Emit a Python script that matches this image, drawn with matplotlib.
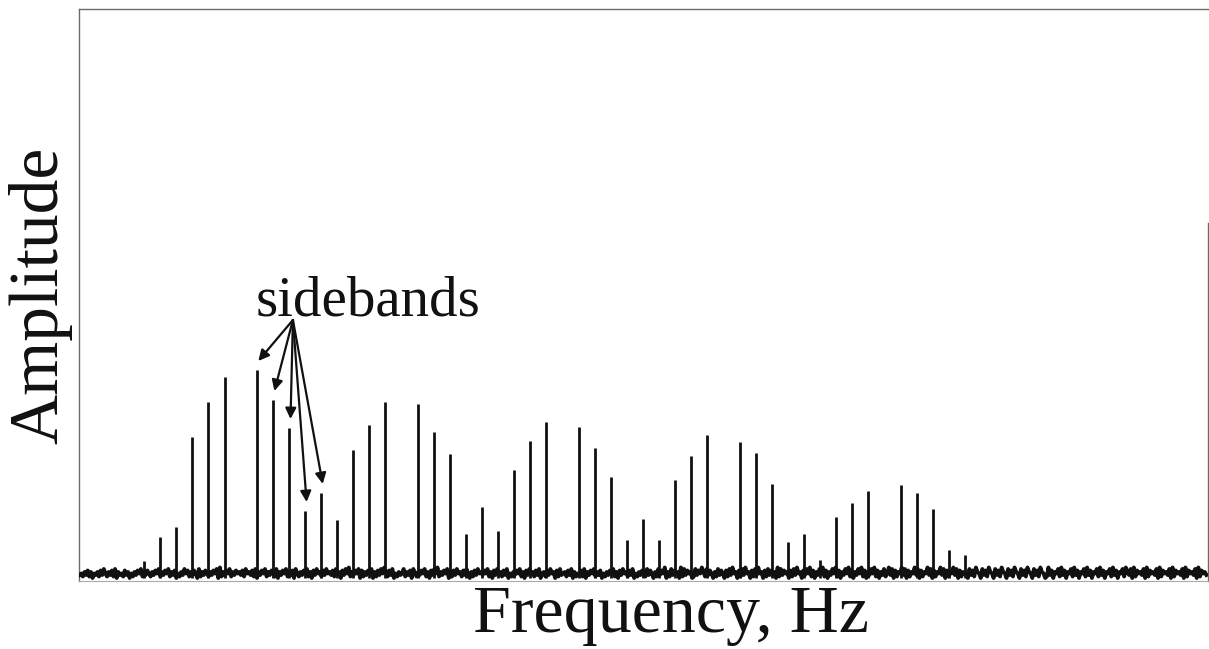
#------- Espectro con bandas laterales -------#
import matplotlib.pyplot as plt
import numpy as np

# posiciones de las lineas espectrales (indice de armonico) y amplitudes
lineas = [0, 1, 2, 3, 4, 5, 7, 8, 9, 10, 11, 12, 13, 14, 15, 17, 18, 19, 20, 21, 22, 23, 24, 25,
          27, 28, 29, 30, 31, 32, 33, 34, 35, 37, 38, 39, 40, 41, 42, 43, 44, 45, 47, 48, 49, 50, 51]
amplitudes = [20, 44, 54, 144, 179, 204, 211, 181, 153, 70, 88, 61, 131, 156, 179, 177, 149, 127,
              47, 74, 50, 111, 140, 159, 154, 133, 104, 41, 62, 41, 101, 125, 146, 139, 128, 97,
              39, 47, 21, 64, 78, 90, 96, 88, 72, 31, 26]

# piso de ruido (lectura aproximada, un digito por muestra)
ruido_txt = ("45364736254637485364738264537462536475836475364758"
             "36475836472536485736475283647536475829364758364756"
             "47385647382647583647538264758364728536475836274856"
             "37485647385627485936475827364758263748596374825364"
             "58364728536475836274859364758263748563748526374856"
             "47583627485637482536475836274856374825637485627384"
             "56374826354738264758364725364758362748563748253647"
             "63847526384759263847562938475623847596384752638475"
             "27384956273849562738495627384756293847562738495627"
             "48593726485937264859372648593726485937264859372648"
             "35948273659482736594827365948273659482736594827365"
             "52847396528473965284739652847396528473965284739652"
             "39472658394726583947265839472658394726583947265839"
             "64829375648293756482937564829375648293756482937564")
ruido = [1.5 * int(c) for c in ruido_txt]

# las bandas laterales señaladas con flechas
senaladas = [7, 8, 9, 10, 11]

plt.rcParams['font.family'] = ['Liberation Serif', 'DejaVu Serif']
negro = '#111111'

fig = plt.figure(figsize=(12.09, 6.49), dpi=100)
ax = fig.add_axes([79/1209, 68/649, 1129/1209, 572/649])

x_ruido = np.linspace(-4, 66, len(ruido))
ax.plot(x_ruido, ruido, color=negro, lw=2.8, zorder=3)
ax.vlines(lineas, 3, amplitudes, color=negro, lw=2.0, zorder=3)

ax.set_xlim(-4.04, 66.1)
ax.set_ylim(0, 572)
ax.set_xticks([])
ax.set_yticks([])

for lado in ['left', 'top', 'right']:
    ax.spines[lado].set_color('#6b6b6b')
    ax.spines[lado].set_linewidth(1.0)
ax.spines['bottom'].set_color('#aaaaaa')
ax.spines['right'].set_bounds(0, 358)

# flechas desde el texto
origen = (9.25, 261)
for k in senaladas:
    amp = amplitudes[lineas.index(k)]
    ax.annotate("", xy=(k + 0.1, amp + 9), xytext=origen,
                arrowprops=dict(arrowstyle='-|>', color=negro, lw=1.6, mutation_scale=16,
                                shrinkA=0, shrinkB=0))
ax.text(13.9, 265, "sidebands", fontsize=41, ha='center', va='baseline', color=negro)

fig.text(671/1209, 17/649, "Frequency, Hz", fontsize=49, ha='center', va='baseline', color=negro)
fig.text(40/1209, 0.545, "Amplitude", fontsize=50, rotation=90, ha='center', va='center', color=negro)

plt.savefig("out.png", dpi=100)
plt.close()
